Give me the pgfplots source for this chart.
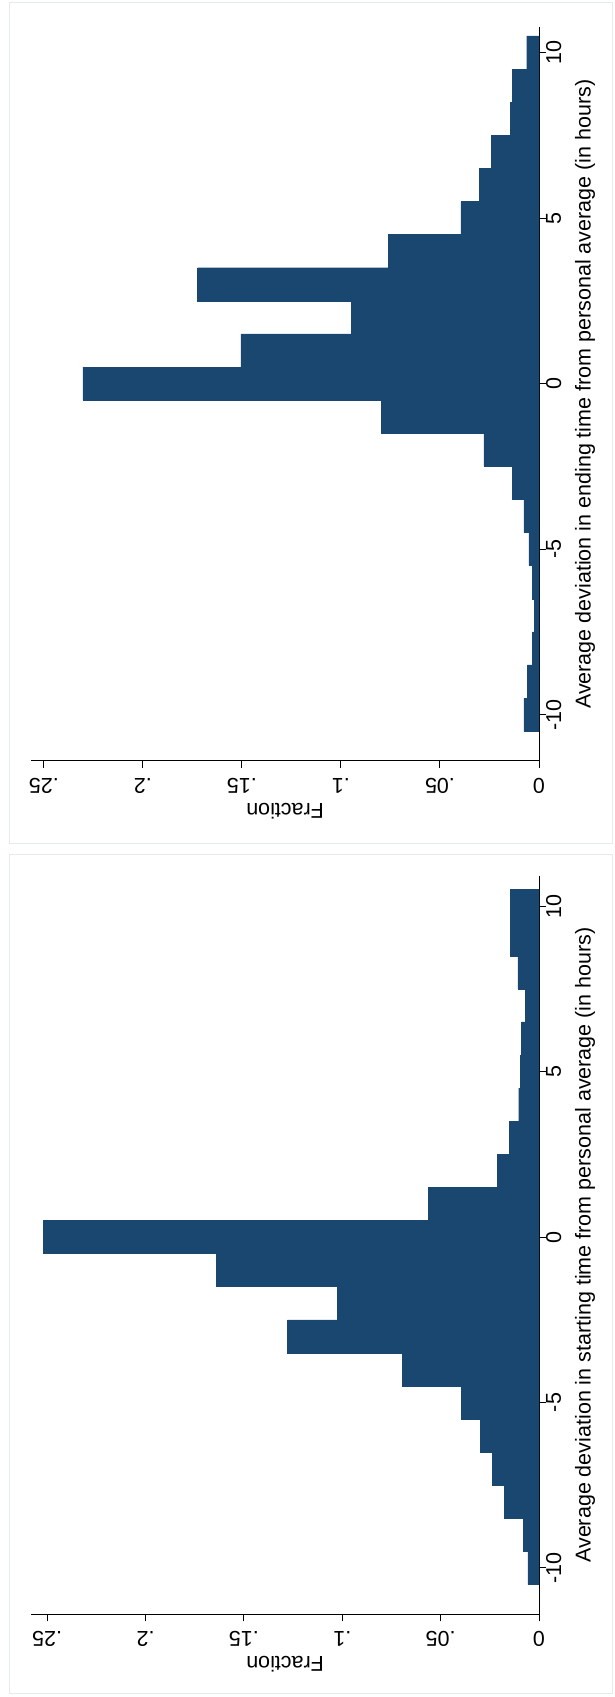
\documentclass[border=0pt]{standalone}
\usepackage{pgfplots}
\usepackage{pgfplotstable}
\pgfplotsset{compat=1.18}
\usepackage{fontspec}
\setmainfont{Liberation Sans}
\definecolor{statablue}{HTML}{1A476F}
\definecolor{framegray}{RGB}{228,234,238}

\pgfplotstableread{
h f
-10 0.0076
-9 0.0059
-8 0.0034
-7 0.0024
-6 0.0034
-5 0.0051
-4 0.0077
-3 0.0133
-2 0.0278
-1 0.0795
0 0.2303
1 0.1505
2 0.0946
3 0.1724
4 0.0761
5 0.0394
6 0.0303
7 0.0239
8 0.0143
9 0.0133
10 0.0062
}\endingtab

\pgfplotstableread{
h f
-10 0.0056
-9 0.0081
-8 0.0175
-7 0.0236
-6 0.0298
-5 0.0393
-4 0.0695
-3 0.1278
-2 0.1025
-1 0.1639
0 0.2520
1 0.0564
2 0.0212
3 0.0151
4 0.0103
5 0.0095
6 0.0088
7 0.0068
8 0.0107
9 0.0147
10 0.0144
}\startingtab

\newcommand{\lbfont}{\fontsize{21.5}{24}\selectfont}

\pgfplotsset{
  mystyle/.style={
    scale only axis, anchor=south west,
    x dir=reverse, xmin=0,
    axis x line*=bottom, axis y line*=right,
    axis line style={line width=1pt, -},
    tick align=outside, major tick length=7pt,
    every tick/.style={black, line width=1pt},
    /pgf/number format/assume math mode=true,
    xtick={0,0.05,0.1,0.15,0.2,0.25},
    xticklabel={\pgfmathprintnumber[fixed, precision=2, skip 0.]{\tick}},
    ytick={-10,-5,0,5,10},
    yticklabel={\pgfmathprintnumber[fixed, precision=0]{\tick}},
    minor tick num=0,
    tick label style={font=\lbfont, inner sep=0pt},
    xticklabel style={yshift=-10pt, rotate=180, anchor=south},
    yticklabel style={rotate=90, anchor=north},
    xlabel={Fraction},
  }
}

\begin{document}
\begin{tikzpicture}
\useasboundingbox (0pt,0pt) rectangle (614pt,1697pt);
\draw[framegray, line width=1pt] (9pt,853pt) rectangle (612pt,1694pt);
\draw[framegray, line width=1pt] (9pt,3pt) rectangle (612pt,842pt);

\begin{axis}[mystyle,
  at={(31.3pt,936pt)}, width=507.7pt, height=733.6pt,
  xmax=0.2564, ymin=-11.40, ymax=10.76,
  every axis x label/.style={at={(axis cs:0.1282,-11.40)}, anchor=center, yshift=-50pt, rotate=180, font=\lbfont},
  every axis y label/.style={at={(axis cs:0,-0.32)}, anchor=center, xshift=46pt, rotate=90, font=\lbfont},
  ylabel={Average deviation in ending time from personal average (in hours)}]
\addplot[xbar, bar width=1, bar shift=0, fill=statablue, draw=statablue, line width=0.4pt] table[x=f, y=h] {\endingtab};
\end{axis}

\begin{axis}[mystyle,
  at={(31.3pt,82.7pt)}, width=507.7pt, height=738.6pt,
  xmax=0.2581, ymin=-11.40, ymax=10.92,
  every axis x label/.style={at={(axis cs:0.12905,-11.40)}, anchor=center, yshift=-50pt, rotate=180, font=\lbfont},
  every axis y label/.style={at={(axis cs:0,-0.24)}, anchor=center, xshift=46pt, rotate=90, font=\lbfont},
  ylabel={Average deviation in starting time from personal average (in hours)}]
\addplot[xbar, bar width=1, bar shift=0, fill=statablue, draw=statablue, line width=0.4pt] table[x=f, y=h] {\startingtab};
\end{axis}
\end{tikzpicture}
\end{document}
